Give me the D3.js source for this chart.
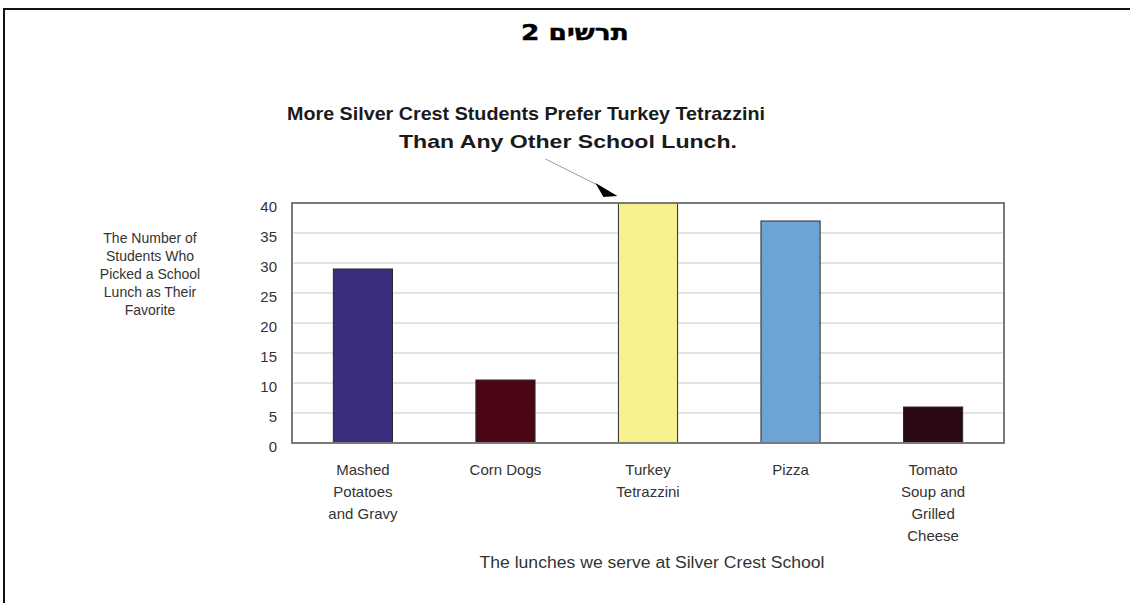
<!DOCTYPE html>
<html><head><meta charset="utf-8">
<script src="https://cdn.jsdelivr.net/npm/d3@7"></script>
<style>body{margin:0;background:#fff;}svg{display:block;}
#ftitle{position:absolute;left:0;top:19px;width:1150px;text-align:center;font-family:'DejaVu Sans',Arial,sans-serif;font-weight:bold;font-size:22px;line-height:28px;color:#000;}
#ftitle span{display:inline-block;transform:scaleX(1.2);-webkit-text-stroke:0.4px #000;}
</style>
</head><body>
<div id="ftitle"><span dir="rtl"></span></div>
<svg id="chart" width="1130" height="603"></svg>
<script>
const categories = ["Mashed Potatoes and Gravy","Corn Dogs","Turkey Tetrazzini","Pizza","Tomato Soup and Grilled Cheese"];
const categoryLines = [["Mashed","Potatoes","and Gravy"],["Corn Dogs"],["Turkey","Tetrazzini"],["Pizza"],["Tomato","Soup and","Grilled","Cheese"]];
const values = [29, 10.5, 40, 37, 6];
const barColors = ["#3b2c7e","#4a0612","#f6f18e","#6ea4d4","#2b0a16"];
const yTicks = [0,5,10,15,20,25,30,35,40];
const figureTitle = "תרשים 2";
const titleLines = ["More Silver Crest Students Prefer Turkey Tetrazzini","Than Any Other School Lunch."];
const yTitleLines = ["The Number of","Students Who","Picked a School","Lunch as Their","Favorite"];
const xTitle = "The lunches we serve at Silver Crest School";

d3.select("#ftitle span").text(figureTitle);

const svg = d3.select("#chart");
const font = "'Liberation Sans', Arial, sans-serif";
const m = {left:292, right:1004, top:203, bottom:443};

// outer frame
svg.append("rect").attr("x",4).attr("y",9).attr("width",1140).attr("height",620)
  .attr("fill","none").attr("stroke","#111").attr("stroke-width",2);

const x = d3.scaleBand().domain(categories).range([m.left,m.right]).paddingInner(0.585).paddingOuter(0.29);
const y = d3.scaleLinear().domain([0,40]).range([m.bottom,m.top]);

// gridlines
svg.append("g").selectAll("line").data(yTicks.filter(t=>t>0 && t<40)).join("line")
  .attr("x1",m.left).attr("x2",m.right).attr("y1",d=>y(d)).attr("y2",d=>y(d))
  .attr("stroke","#c8c8c8").attr("stroke-width",1);

// bars
svg.append("g").selectAll("rect").data(values).join("rect")
  .attr("x",(d,i)=>x(categories[i])).attr("width",x.bandwidth())
  .attr("y",d=>y(d)).attr("height",d=>y(0)-y(d))
  .attr("fill",(d,i)=>barColors[i]).attr("stroke","#2a2a2a").attr("stroke-width",1);

// plot frame
svg.append("rect").attr("x",m.left).attr("y",m.top).attr("width",m.right-m.left).attr("height",m.bottom-m.top)
  .attr("fill","none").attr("stroke","#7a7a7a").attr("stroke-width",2);

// y axis labels
const yAxis = d3.axisLeft(y).tickValues(yTicks).tickSize(0).tickPadding(15);
const gy = svg.append("g").attr("transform",`translate(${m.left},0)`).call(yAxis);
gy.select(".domain").remove();
gy.selectAll("text").attr("font-family",font).attr("font-size",15).attr("fill","#333").attr("dy","0.55em");

// x axis labels
const gx = svg.append("g");
categoryLines.forEach((lines,i)=>{
  const cx = x(categories[i]) + x.bandwidth()/2;
  const t = gx.append("text").attr("x",cx).attr("y",475).attr("text-anchor","middle")
    .attr("font-family",font).attr("font-size",15).attr("fill","#333");
  lines.forEach((l,j)=>t.append("tspan").attr("x",cx).attr("dy",j===0?0:22).text(l));
});

// title
svg.append("text").attr("x",526).attr("y",120).attr("text-anchor","middle")
  .attr("font-family",font).attr("font-weight","bold").attr("font-size",19).attr("fill","#1a1a1a")
  .attr("textLength",478).attr("lengthAdjust","spacingAndGlyphs").text(titleLines[0]);
svg.append("text").attr("x",568).attr("y",148).attr("text-anchor","middle")
  .attr("font-family",font).attr("font-weight","bold").attr("font-size",19).attr("fill","#1a1a1a")
  .attr("textLength",338).attr("lengthAdjust","spacingAndGlyphs").text(titleLines[1]);

// y title
const yt = svg.append("text").attr("x",150).attr("y",243).attr("text-anchor","middle")
  .attr("font-family",font).attr("font-size",14).attr("fill","#333");
yTitleLines.forEach((l,j)=>yt.append("tspan").attr("x",150).attr("dy",j===0?0:18).text(l));

// x title
svg.append("text").attr("x",652).attr("y",568).attr("text-anchor","middle")
  .attr("font-family",font).attr("font-size",16).attr("fill","#333")
  .attr("textLength",345).attr("lengthAdjust","spacingAndGlyphs").text(xTitle);

// arrow annotation pointing to the top bar
const tipX = x(categories[2]) - 1, tipY = y(40) - 7;
svg.append("line").attr("x1",tipX-72).attr("y1",tipY-37).attr("x2",tipX-14).attr("y2",tipY-8)
  .attr("stroke","#9a9aa8").attr("stroke-width",1);
svg.append("path").attr("d",`M${tipX},${tipY} L${tipX-22},${tipY-13} L${tipX-14},${tipY+1} Z`).attr("fill","#000");
</script>
</body></html>
